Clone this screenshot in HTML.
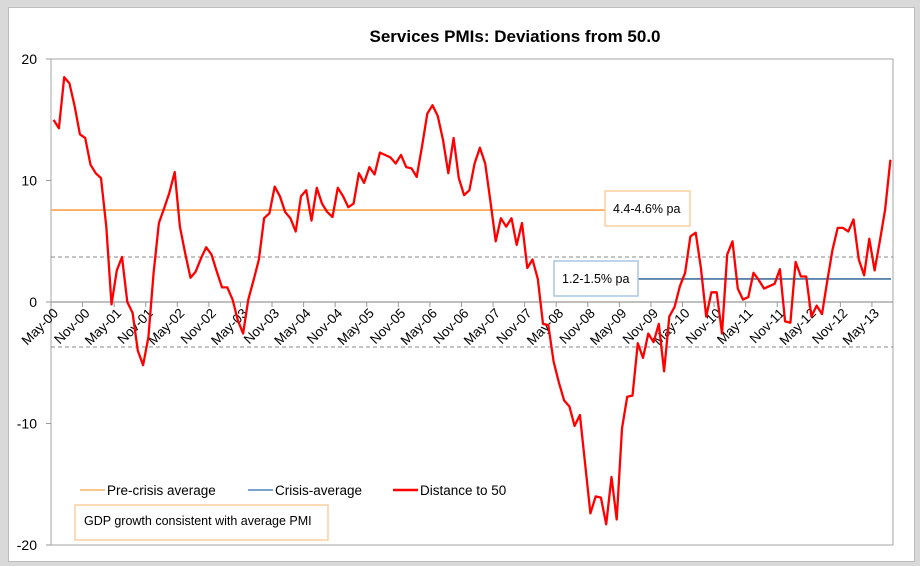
<!DOCTYPE html>
<html><head><meta charset="utf-8"><style>
body{margin:0;background:#d4d4d4;}
#wrap{position:relative;width:920px;height:566px;background:#d9d9d9;overflow:hidden;font-family:"Liberation Sans",sans-serif;}
#card{position:absolute;left:8px;top:7px;width:905px;height:553px;background:#fff;border:1px solid #bcbcbc;}
svg{position:absolute;left:0;top:0;}
</style></head><body>
<div id="wrap">
<div id="card"></div>
<svg id="chart" width="920" height="566"></svg>
</div>
<script>
const values=[15.0,14.3,18.5,18.0,16.1,13.8,13.5,11.3,10.6,10.2,6.2,-0.2,2.6,3.7,0.0,-0.9,-4.0,-5.2,-2.9,2.4,
6.5,7.7,9.0,10.7,6.2,4.0,2.0,2.5,3.6,4.5,3.9,2.5,1.2,1.2,0.2,-1.5,-2.6,0.2,1.8,3.5,
6.9,7.3,9.5,8.7,7.4,6.9,5.8,8.7,9.2,6.7,9.4,8.1,7.4,7.0,9.4,8.7,7.8,8.1,10.6,9.8,
11.1,10.5,12.3,12.1,11.9,11.4,12.1,11.1,11.0,10.3,12.8,15.5,16.2,15.3,13.3,10.6,13.5,10.2,8.8,9.2,
11.4,12.7,11.4,8.3,5.0,6.9,6.2,6.9,4.7,6.5,2.8,3.5,1.9,-1.8,-1.9,-4.9,-6.6,-8.1,-8.6,-10.2,
-9.3,-13.3,-17.4,-16.0,-16.1,-18.3,-14.4,-17.9,-10.4,-7.8,-7.7,-3.4,-4.6,-2.6,-3.3,-1.8,-5.7,-1.2,-0.4,1.3,
2.4,5.4,5.7,2.8,-1.2,0.8,0.8,-2.6,3.9,5.0,1.1,0.2,0.4,2.4,1.8,1.1,1.3,1.5,2.7,-1.6,
-1.7,3.3,2.1,2.1,-1.2,-0.3,-1.0,1.7,4.3,6.1,6.1,5.8,6.8,3.5,2.2,5.2,2.6,5.0,7.6,11.7];
const tickLabels=["May-00","Nov-00","May-01","Nov-01","May-02","Nov-02","May-03","Nov-03","May-04","Nov-04","May-05","Nov-05","May-06","Nov-06","May-07","Nov-07","May-08","Nov-08","May-09","Nov-09","May-10","Nov-10","May-11","Nov-11","May-12","Nov-12","May-13"];
const yTicks=[20,10,0,-10,-20];
const preCrisisAvg=[7.57];
const crisisAvg=[1.9];
const gdpBands=[3.7,-3.7];

const NS="http://www.w3.org/2000/svg";
const svg=document.getElementById('chart');
const L=51,R=893,T=59,B=545,YMAX=20,YMIN=-20;
const step=(R-L)/(values.length);
const xs=i=>L+(i+0.5)*step;
const ys=v=>T+(YMAX-v)/(YMAX-YMIN)*(B-T);
function mk(tag,a,txt){const e=document.createElementNS(NS,tag);for(const k in a)e.setAttribute(k,a[k]);if(txt!=null)e.textContent=txt;svg.appendChild(e);return e;}

let e=mk('text',{x:515,y:42,'text-anchor':'middle','font-size':'17','font-weight':'bold',fill:'#000'},'Services PMIs: Deviations from 50.0');


e=mk('rect',{x:L,y:T,width:R-L,height:B-T,fill:'none',stroke:'#a6a6a6','stroke-width':1});


yTicks.forEach(v=>{
  const t=mk('text',{x:37,y:ys(v)+5,'text-anchor':'end','font-size':'14',fill:'#000'},String(v));
  
  
  const l=mk('line',{x1:L-5,x2:L,y1:ys(v),y2:ys(v),stroke:'#999'});
  
  
});
gdpBands.forEach(v=>{
  const l=mk('line',{x1:L,x2:R,y1:ys(v),y2:ys(v),stroke:'#888','stroke-dasharray':'4,3','stroke-width':1});
  
  
});
e=mk('line',{x1:L,x2:R,y1:ys(0),y2:ys(0),stroke:'#999','stroke-width':1.2});


tickLabels.forEach((lab,k)=>{
  const x=L+k*6*step;
  const l=mk('line',{x1:x,x2:x,y1:ys(0),y2:ys(0)+5,stroke:'#999'});
  
  
  const t=mk('text',{x:x+8,y:ys(0)+12,'text-anchor':'end','font-size':'13.5',fill:'#000',transform:`rotate(-45 ${x+8} ${ys(0)+12})`},lab);
  
  
});
e=mk('line',{x1:L,x2:605,y1:ys(preCrisisAvg[0]),y2:ys(preCrisisAvg[0]),stroke:'#f9a04f','stroke-width':1.6});


e=mk('line',{x1:638,x2:891,y1:ys(crisisAvg[0]),y2:ys(crisisAvg[0]),stroke:'#5b84ab','stroke-width':1.8});


e=mk('rect',{x:605,y:191,width:85,height:35,fill:'#fff',stroke:'#fbd0a0','stroke-width':1.5});


e=mk('text',{x:613,y:213,'font-size':'12.5',fill:'#000'},'4.4-4.6% pa');


e=mk('rect',{x:554,y:261,width:84,height:35,fill:'#fff',stroke:'#a9c6e3','stroke-width':1.5});


e=mk('text',{x:562,y:283,'font-size':'12.5',fill:'#000'},'1.2-1.5% pa');


e=mk('polyline',{points:values.map((v,i)=>xs(i).toFixed(1)+','+ys(v).toFixed(1)).join(' '),fill:'none',stroke:'#ff0000','stroke-width':2.3,'stroke-linejoin':'round'});


const leg=[['Pre-crisis average','#f9a04f',80,1.3],['Crisis-average','#2f6cb0',248,1.3],['Distance to 50','#ff0000',393,2.5]];
leg.forEach(([name,c,x,w])=>{
  const l=mk('line',{x1:x,x2:x+25,y1:490,y2:490,stroke:c,'stroke-width':w});
  
  
  const t=mk('text',{x:x+27,y:495,'font-size':'13.5',fill:'#000'},name);
  
  
});
e=mk('rect',{x:75,y:505,width:253,height:35,fill:'#fff',stroke:'#fbd0a0','stroke-width':1.5});


e=mk('text',{x:84,y:525,'font-size':'12.5',fill:'#000'},'GDP growth consistent with average PMI');


</script>
</body></html>
